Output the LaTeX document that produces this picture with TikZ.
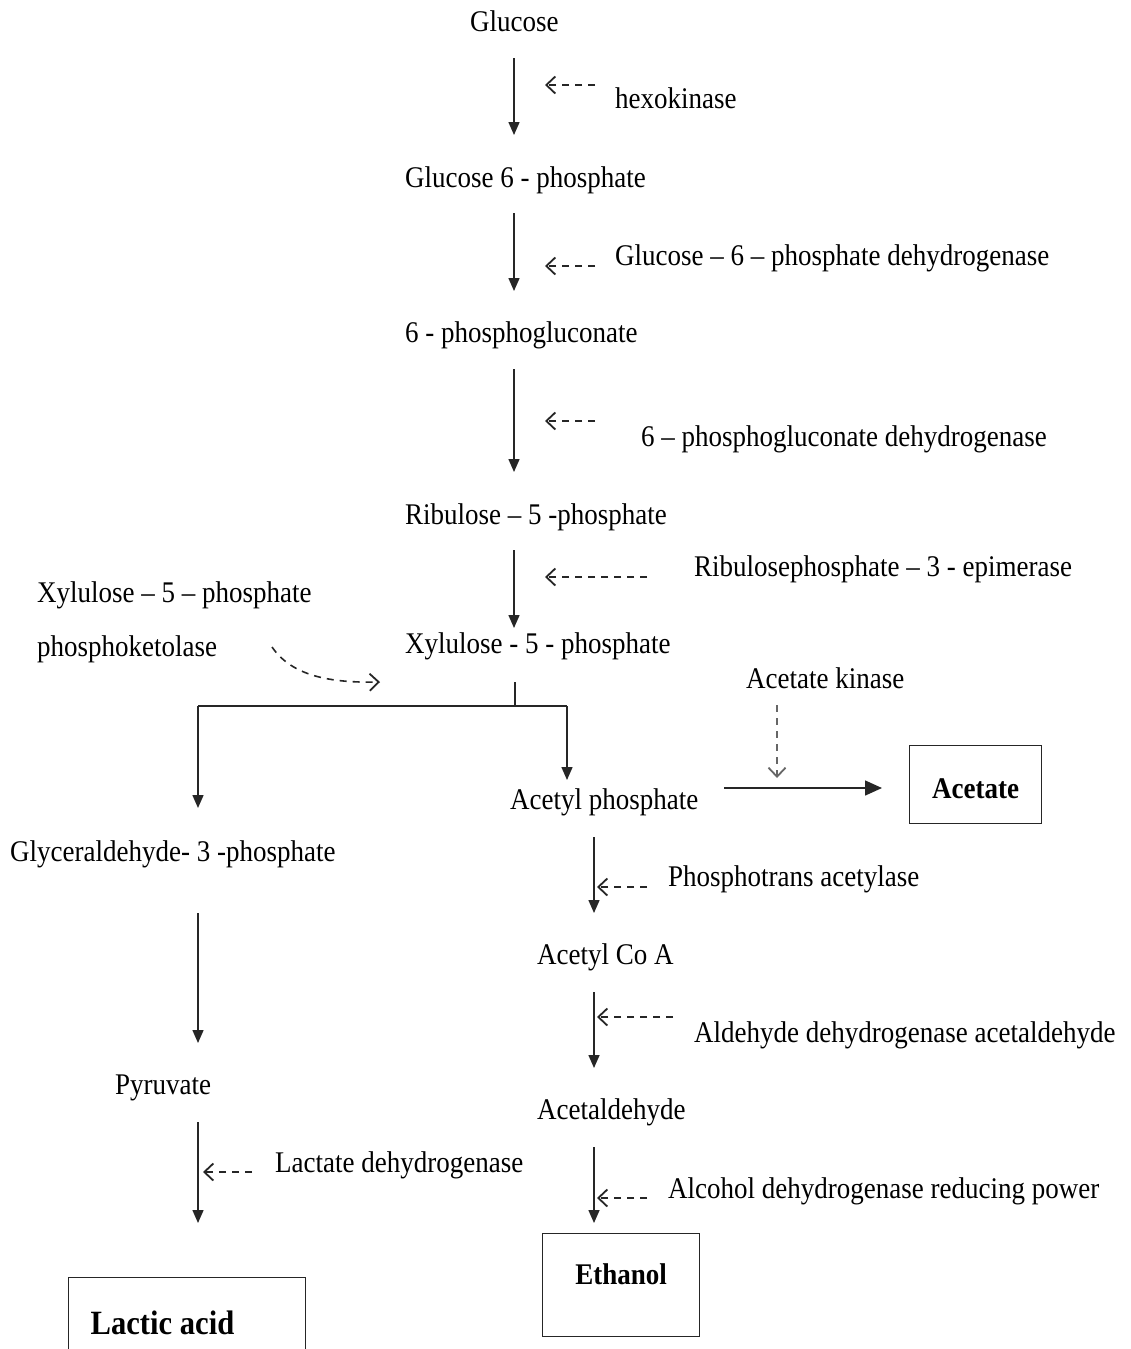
\documentclass[tikz,border=0pt]{standalone}
\usepackage{fontspec}
\setmainfont{Liberation Serif}[FakeStretch=0.9]
\usetikzlibrary{arrows.meta}
\begin{document}
\begin{tikzpicture}[x=1pt,y=-1pt,
  lbl/.style={anchor=base west, inner sep=0pt, font=\fontsize{30}{36}\selectfont},
  flow/.style={draw=black!85, line width=1.5pt, -{Triangle[length=13pt,width=11pt]}},
  bigflow/.style={draw=black!85, line width=1.5pt, -{Triangle[length=17pt,width=15pt]}},
  enz/.style={draw=black!85, line width=1.6pt, dash pattern=on 7pt off 6pt,
    -{Straight Barb[length=9pt,width=17pt,line width=1.8pt]}},
  conn/.style={draw=black!85, line width=1.5pt},
  endbox/.style={draw=black!85, line width=1.4pt, inner sep=0pt,
    font=\fontsize{30}{36}\selectfont\bfseries}
]
\clip (0,0) rectangle (1131,1349);
\fill[white] (0,0) rectangle (1131,1349);

% --- main pentose phosphate chain ---
\node[lbl] (glc)  at (470,31)  {Glucose};
\node[lbl] (hk)   at (615,108) {hexokinase};
\node[lbl] (g6p)  at (405,187) {Glucose 6 - phosphate};
\node[lbl] (g6pd) at (615,265) {Glucose -- 6 -- phosphate dehydrogenase};
\node[lbl] (pg)   at (405,342) {6 - phosphogluconate};
\node[lbl] (pgd)  at (641,446) {6 -- phosphogluconate dehydrogenase};
\node[lbl] (ru5p) at (405,524) {Ribulose -- 5 -phosphate};
\node[lbl] (rpe)  at (694,576) {Ribulosephosphate -- 3 - epimerase};
\node[lbl] (xl)   at (37,602)  {Xylulose -- 5 -- phosphate};
\node[lbl] (pk)   at (37,656)  {phosphoketolase};
\node[lbl] (x5p)  at (405,653) {Xylulose - 5 - phosphate};

% --- acetate / ethanol branch ---
\node[lbl] (ak)   at (746,688)  {Acetate kinase};
\node[lbl] (acp)  at (510,809)  {Acetyl phosphate};
\node[lbl] (pta)  at (668,886)  {Phosphotrans acetylase};
\node[lbl] (acoa) at (537,964)  {Acetyl Co A};
\node[lbl] (ald)  at (694,1042) {Aldehyde dehydrogenase acetaldehyde};
\node[lbl] (acal) at (537,1119) {Acetaldehyde};
\node[lbl] (adh)  at (668,1198) {Alcohol dehydrogenase reducing power};

% --- lactate branch ---
\node[lbl] (gap)  at (10,861)   {Glyceraldehyde- 3 -phosphate};
\node[lbl] (pyr)  at (115,1094) {Pyruvate};
\node[lbl] (ldh)  at (275,1172) {Lactate dehydrogenase};

% --- end products ---
\node[endbox, anchor=north west, minimum width=132pt, minimum height=78pt,
      text height=28pt, text depth=0pt] (acet) at (909,745) {Acetate};
\node[endbox, anchor=north west, minimum width=157pt, minimum height=103pt,
      text height=20pt, text depth=21pt] (eth) at (542,1233) {Ethanol};
\node[endbox, anchor=north west, minimum width=237pt, minimum height=90pt,
      font=\fontsize{34}{40}\selectfont\bfseries] (lac) at (68,1277)
      {\makebox[193pt][l]{Lactic acid}};

% --- reaction arrows ---
\coordinate (a1s) at (514,58);   \coordinate (a1e) at (514,135);
\coordinate (a2s) at (514,213);  \coordinate (a2e) at (514,291);
\coordinate (a3s) at (514,369);  \coordinate (a3e) at (514,472);
\coordinate (a4s) at (514,550);  \coordinate (a4e) at (514,628);
\draw[flow] (a1s) -- (a1e);
\draw[flow] (a2s) -- (a2e);
\draw[flow] (a3s) -- (a3e);
\draw[flow] (a4s) -- (a4e);

% enzyme pointers
\coordinate (e1s) at (595,85);   \coordinate (e1e) at (545,85);
\coordinate (e2s) at (595,266);  \coordinate (e2e) at (545,266);
\coordinate (e3s) at (595,421);  \coordinate (e3e) at (545,421);
\coordinate (e4s) at (647,577);  \coordinate (e4e) at (545,577);
\draw[enz] (e1s) -- (e1e);
\draw[enz] (e2s) -- (e2e);
\draw[enz] (e3s) -- (e3e);
\draw[enz] (e4s) -- (e4e);

% phosphoketolase pointer
\coordinate (pks) at (272,647);
\coordinate (pke) at (380,682);
\draw[enz] (pks) .. controls (292,676) and (330,683) .. (pke);

% split at xylulose-5-phosphate
\coordinate (sp0) at (515,682);
\coordinate (sp1) at (515,706);
\coordinate (spl) at (198,706);
\coordinate (spr) at (567,706);
\coordinate (gapin) at (198,808);
\coordinate (acpin) at (567,780);
\draw[conn] (sp0) -- (sp1);
\draw[conn] (spl) -- (spr);
\draw[flow] (spl) -- (gapin);
\draw[flow] (spr) -- (acpin);

% acetyl phosphate to acetate
\coordinate (acout) at (724,788);
\coordinate (acin) at (882,788);
\draw[bigflow] (acout) -- (acin);
\coordinate (aks) at (777,705);  \coordinate (ake) at (777,778);
\draw[enz, draw=black!60] (aks) -- (ake);

% ethanol chain
\coordinate (b1s) at (594,837);  \coordinate (b1e) at (594,913);
\coordinate (b2s) at (594,992);  \coordinate (b2e) at (594,1068);
\coordinate (b3s) at (594,1147); \coordinate (b3e) at (594,1223);
\draw[flow] (b1s) -- (b1e);
\draw[flow] (b2s) -- (b2e);
\draw[flow] (b3s) -- (b3e);
\coordinate (f1s) at (647,887);  \coordinate (f1e) at (597,887);
\coordinate (f2s) at (673,1017); \coordinate (f2e) at (597,1017);
\coordinate (f3s) at (647,1198); \coordinate (f3e) at (597,1198);
\draw[enz] (f1s) -- (f1e);
\draw[enz] (f2s) -- (f2e);
\draw[enz] (f3s) -- (f3e);

% lactate chain
\coordinate (c1s) at (198,913);  \coordinate (c1e) at (198,1043);
\coordinate (c2s) at (198,1122); \coordinate (c2e) at (198,1223);
\draw[flow] (c1s) -- (c1e);
\draw[flow] (c2s) -- (c2e);
\coordinate (l1s) at (252,1172); \coordinate (l1e) at (203,1172);
\draw[enz] (l1s) -- (l1e);
\end{tikzpicture}
\end{document}
